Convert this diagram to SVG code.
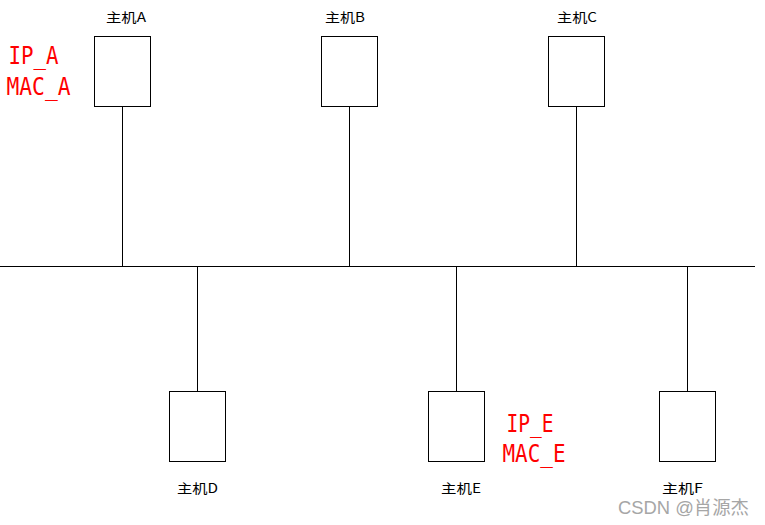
<svg xmlns="http://www.w3.org/2000/svg" width="765" height="525" viewBox="0 0 765 525">
<style>
.box{fill:#fff;stroke:#000;stroke-width:1}
.ln{stroke:#000;stroke-width:1;fill:none}
.lbl{font-family:"Noto Sans CJK SC","Liberation Sans",sans-serif;font-size:13px;fill:#000}
.red{font-family:"DejaVu Sans Mono","Liberation Mono",monospace;font-size:24px;fill:#ff0000}
.wm{font-family:"Liberation Sans","Noto Sans CJK SC",sans-serif;font-size:18px;fill:#a6a6a6}
</style>
<rect width="765" height="525" fill="#fff"/>
<g id="connectors">
<line class="ln" x1="0" y1="266.5" x2="755" y2="266.5"/>
<line class="ln" x1="122.5" y1="106.5" x2="122.5" y2="266.5"/>
<line class="ln" x1="349.5" y1="106.5" x2="349.5" y2="266.5"/>
<line class="ln" x1="576.5" y1="106.5" x2="576.5" y2="266.5"/>
<line class="ln" x1="197.5" y1="266.5" x2="197.5" y2="391.5"/>
<line class="ln" x1="456.5" y1="266.5" x2="456.5" y2="391.5"/>
<line class="ln" x1="687.5" y1="266.5" x2="687.5" y2="391.5"/>
</g>
<g id="hostA">
<rect class="box" x="94.5" y="36.5" width="56" height="70"/>
<text class="lbl" x="106" y="22" textLength="40" lengthAdjust="spacingAndGlyphs">主机A</text>
</g>
<g id="hostB">
<rect class="box" x="321.5" y="36.5" width="56" height="70"/>
<text class="lbl" x="325" y="22" textLength="40" lengthAdjust="spacingAndGlyphs">主机B</text>
</g>
<g id="hostC">
<rect class="box" x="548.5" y="36.5" width="56" height="70"/>
<text class="lbl" x="557" y="22" textLength="40" lengthAdjust="spacingAndGlyphs">主机C</text>
</g>
<g id="hostD">
<rect class="box" x="169.5" y="391.5" width="56" height="70"/>
<text class="lbl" x="177" y="493" textLength="41" lengthAdjust="spacingAndGlyphs">主机D</text>
</g>
<g id="hostE">
<rect class="box" x="428.5" y="391.5" width="56" height="70"/>
<text class="lbl" x="441" y="493" textLength="40" lengthAdjust="spacingAndGlyphs">主机E</text>
</g>
<g id="hostF">
<rect class="box" x="659.5" y="391.5" width="56" height="70"/>
<text class="lbl" x="662" y="493" textLength="41" lengthAdjust="spacingAndGlyphs">主机F</text>
</g>
<g id="labels">
<text class="red" x="8.5" y="64" textLength="50" lengthAdjust="spacingAndGlyphs">IP_A</text>
<text class="red" x="6.5" y="95" textLength="64" lengthAdjust="spacingAndGlyphs">MAC_A</text>
<text class="red" x="506.5" y="432" textLength="47" lengthAdjust="spacingAndGlyphs">IP_E</text>
<text class="red" x="502.5" y="462" textLength="63" lengthAdjust="spacingAndGlyphs">MAC_E</text>
<text class="wm" x="618" y="514" textLength="131" lengthAdjust="spacingAndGlyphs">CSDN @肖源杰</text>
</g>
</svg>
